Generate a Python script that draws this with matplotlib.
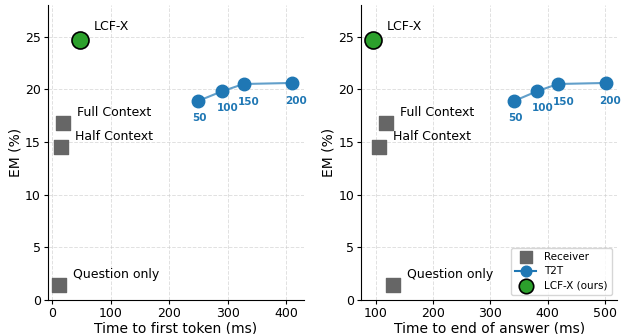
import numpy as np
import matplotlib.pyplot as plt

# receiver baselines
recv_names = ['Question only', 'Half Context', 'Full Context']
recv_em = [1.4, 14.5, 16.8]
recv_ttft = [12, 15, 19]
recv_ttea = [129, 105, 117]

# T2T at different token budgets
t2t_budget = ['50', '100', '150', '200']
t2t_em = [18.9, 19.8, 20.5, 20.6]
t2t_ttft = [250, 290, 327, 410]
t2t_ttea = [342, 381, 418, 502]

# ours
lcf_em = 24.7
lcf_ttft = 48
lcf_ttea = 95

grey = '#666666'
blue = '#1f77b4'
green = '#2ca02c'

fig, axes = plt.subplots(1, 2, figsize=(6.21, 3.34), dpi=100)
fig.subplots_adjust(left=0.077, right=0.994, top=0.985, bottom=0.102, wspace=0.224)

panels = [(axes[0], recv_ttft, t2t_ttft, lcf_ttft, 'Time to first token (ms)', (-7, 430), [0, 100, 200, 300, 400]),
          (axes[1], recv_ttea, t2t_ttea, lcf_ttea, 'Time to end of answer (ms)', (74, 522), [100, 200, 300, 400, 500])]

for ax, rx, tx, lx, xlabel, xlim, xt in panels:
    ax.scatter(rx, recv_em, marker='s', s=110, color=grey, label='Receiver', zorder=3)
    for name, x, y in zip(recv_names, rx, recv_em):
        ax.annotate(name, (x, y), xytext=(10, 5), textcoords='offset points', fontsize=9)
    ax.plot(tx, t2t_em, '-', color=blue, linewidth=1.5, alpha=0.7, zorder=3)
    ax.plot(tx, t2t_em, 'o', color=blue, markersize=9, zorder=3)
    ax.plot([], [], '-o', color=blue, markersize=9, label='T2T')
    offs = [(1, -12), (4, -12), (4, -13), (3, -13)]
    for b, x, y, o in zip(t2t_budget, tx, t2t_em, offs):
        ax.annotate(b, (x, y), xytext=o, textcoords='offset points', ha='center', va='center',
                    fontsize=7.5, fontweight='bold', color=blue)
    ax.scatter([lx], [lcf_em], s=150, color=green, edgecolor='black', linewidth=1.2,
               label='LCF-X (ours)', zorder=4)
    ax.annotate('LCF-X', (lx, lcf_em), xytext=(10, 7), textcoords='offset points', fontsize=9)

    ax.set_xlim(*xlim)
    ax.set_xticks(xt)
    ax.set_ylim(0, 28)
    ax.set_yticks([0, 5, 10, 15, 20, 25])
    ax.set_xlabel(xlabel, fontsize=10, labelpad=1)
    ax.set_ylabel('EM (%)', fontsize=10, labelpad=2)
    ax.tick_params(labelsize=9, length=3, pad=2)
    ax.grid(True, linestyle='--', color='#cccccc', alpha=0.6, linewidth=0.7)
    ax.spines['top'].set_visible(False)
    ax.spines['right'].set_visible(False)

axes[1].legend(loc='lower right', fontsize=7.5, markerscale=0.85, borderpad=0.4, labelspacing=0.4)

plt.savefig('out.png')
